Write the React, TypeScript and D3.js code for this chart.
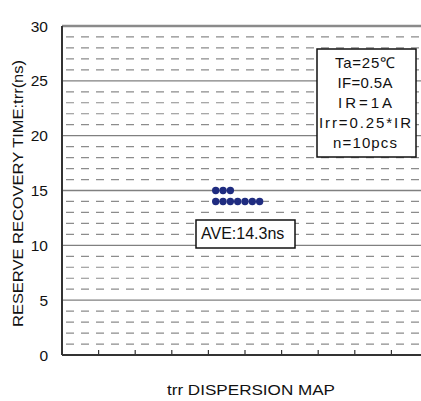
import React from "react";
import * as d3 from "d3";

const WIDTH = 421;
const HEIGHT = 401;
const MARGIN = { top: 26, right: -7, bottom: 46, left: 62 };

// y axis: recovery time (ns)
const Y_TICKS = [0, 5, 10, 15, 20, 25, 30];
const Y_MINOR = [1, 2, 3, 4, 6, 7, 8, 9, 11, 12, 13, 14, 16, 17, 18, 19, 21, 22, 23, 24, 26, 27, 28, 29];
const X_TICKS = [1, 2, 3, 4, 5, 6, 7, 8, 9];

// measured samples (ns) and their horizontal slot on the map
const TRR_VALUES = [15, 15, 15, 14, 14, 14, 14, 14, 14, 14];
const TRR_SLOTS = [4.2, 4.4, 4.6, 4.2, 4.4, 4.6, 4.8, 5.0, 5.2, 5.4];

const CONDITIONS = ["Ta=25℃", "IF=0.5A", "IR=1A", "Irr=0.25*IR", "n=10pcs"];
// rendered widths of the condition lines (the original font is wider)
const CONDITION_WIDTHS = [60, 55, 54, 92, 64];
const AVE_LABEL = "AVE:14.3ns";

const FONT = "'Liberation Sans', Arial, sans-serif";

export default function App() {
  const boundsWidth = WIDTH - MARGIN.left - MARGIN.right;
  const boundsHeight = HEIGHT - MARGIN.top - MARGIN.bottom;

  const xScale = d3.scaleLinear().domain([0, 10]).range([0, boundsWidth]);
  const yScale = d3.scaleLinear().domain([0, 30]).range([boundsHeight, 0]);

  const dots = TRR_VALUES.map((v, i) => (
    <circle key={i} cx={xScale(TRR_SLOTS[i])} cy={yScale(v)} r={3.7} fill="#1f2c80" />
  ));

  return (
    <svg
      width={WIDTH}
      height={HEIGHT}
      style={{ position: "absolute", left: 0, top: 0, background: "#fff" }}
      fontFamily={FONT}
    >
      <g transform={`translate(${MARGIN.left},${MARGIN.top})`}>
        {/* dashed minor grid */}
        {Y_MINOR.map((t) => (
          <line
            key={`m${t}`}
            x1={0}
            x2={boundsWidth}
            y1={yScale(t)}
            y2={yScale(t)}
            stroke="#8c8c8c"
            strokeWidth={1.2}
            strokeDasharray="8,7"
            strokeDashoffset={-4}
          />
        ))}
        {/* solid major grid */}
        {Y_TICKS.filter((t) => t > 0 && t < 30).map((t) => (
          <line
            key={`g${t}`}
            x1={0}
            x2={boundsWidth}
            y1={yScale(t)}
            y2={yScale(t)}
            stroke="#808080"
            strokeWidth={1.4}
          />
        ))}
        <line x1={0} x2={boundsWidth} y1={yScale(30)} y2={yScale(30)} stroke="#8a8a8a" strokeWidth={2.5} />

        {/* x ticks pointing inward */}
        {X_TICKS.map((t) => (
          <line
            key={`x${t}`}
            x1={xScale(t)}
            x2={xScale(t)}
            y1={boundsHeight}
            y2={boundsHeight - 5}
            stroke="#333"
            strokeWidth={1.2}
          />
        ))}
        <line x1={0} x2={boundsWidth} y1={boundsHeight} y2={boundsHeight} stroke="#333" strokeWidth={2} />
        <line x1={0} x2={0} y1={0} y2={boundsHeight} stroke="#333" strokeWidth={2} />

        {Y_TICKS.map((t) => (
          <text key={`yl${t}`} x={-14} y={yScale(t)} dy="0.36em" textAnchor="end" fontSize={15.5} fill="#111">
            {t}
          </text>
        ))}

        {dots}

        {/* average box */}
        <rect x={134} y={194} width={99} height={28} fill="#fff" stroke="#111" strokeWidth={1.5} />
        <text x={139} y={213} fontSize={16} fill="#111">
          {AVE_LABEL}
        </text>

        {/* conditions box */}
        <rect x={255} y={23} width={99} height={108} fill="#fff" stroke="#111" strokeWidth={1.5} />
        {CONDITIONS.map((c, i) => (
          <text
            key={c}
            x={303 - CONDITION_WIDTHS[i] / 2}
            y={42 + i * 20}
            fontSize={15}
            fill="#111"
            textLength={CONDITION_WIDTHS[i]}
            lengthAdjust="spacing"
          >
            {c}
          </text>
        ))}
      </g>

      <text
        transform={`translate(23,${193.5 + 267 / 2}) rotate(-90)`}
        fontSize={14}
        fill="#111"
        textLength={267}
        lengthAdjust="spacingAndGlyphs"
      >
        RESERVE RECOVERY TIME:trr(ns)
      </text>
      <text
        x={251 - 84}
        y={395}
        fontSize={15}
        fill="#111"
        textLength={168}
        lengthAdjust="spacingAndGlyphs"
      >
        trr DISPERSION MAP
      </text>
    </svg>
  );
}
